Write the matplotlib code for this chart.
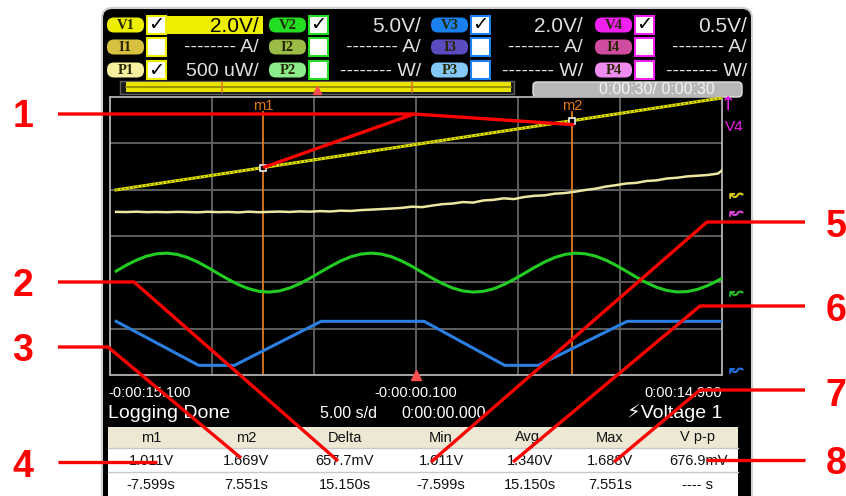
import numpy as np
import matplotlib
matplotlib.use('Agg')
import matplotlib.pyplot as plt
from matplotlib.patches import Rectangle, FancyBboxPatch

plt.rcParams['font.family'] = ['Liberation Sans', 'DejaVu Sans']

# ---- values ----
t_start, t_end = -15.1, 14.9          # 5.00 s/div, 6 divisions
m1_t, m2_t = -7.599, 7.551            # marker times

v1_t = [-14.8, 14.9]
v1_v = [0.22, 4.19]                   # V1 ramp (V)

sample_t = np.append(np.arange(-14.8, 14.75, 0.5), 14.9)
p1_uw = [12, 10, 14, 9, 11, 8, 12, 10, 7, 13, 9, 11, 6, 14, 8, 12, 15, 11, 17, 14,
         20, 16, 25, 22, 31, 36, 42, 48, 55, 68, 63, 80, 95, 102, 118, 112, 135, 142,
         158, 150, 172, 185, 190, 208, 215, 230, 248, 262, 285, 300, 318, 325, 345,
         352, 372, 380, 395, 402, 410, 425, 460]
v2_v = [2.36, 3.00, 3.55, 3.98, 4.23, 4.30, 4.16, 3.83, 3.34, 2.75, 2.10, 1.47, 0.90,
        0.46, 0.18, 0.10, 0.22, 0.53, 1.00, 1.59, 2.23, 2.87, 3.45, 3.91, 4.20, 4.30,
        4.20, 3.91, 3.45, 2.88, 2.23, 1.59, 1.01, 0.53, 0.22, 0.10, 0.18, 0.45, 0.90,
        1.47, 2.10, 2.75, 3.34, 3.83, 4.16, 4.30, 4.23, 3.98, 3.55, 3.00, 2.36, 1.71,
        1.11, 0.61, 0.27, 0.11, 0.15, 0.39, 0.80, 1.35, 1.59]
v3_t = [-14.8, -10.75, -9.0, -4.75, 0.3, 4.25, 5.9, 10.25, 14.9]
v3_v = [2.1, 0.2, 0.2, 2.1, 2.1, 0.2, 0.2, 2.1, 2.1]

v_names = ['V1', 'V2', 'V3', 'V4']
i_names = ['I1', 'I2', 'I3', 'I4']
p_names = ['P1', 'P2', 'P3', 'P4']
v_scale_txt = ['2.0V/', '5.0V/', '2.0V/', '0.5V/']
i_scale_txt = ['-------- A/'] * 4
p_scale_txt = ['500 uW/', '-------- W/', '-------- W/', '-------- W/']
p_checked = [True, False, False, False]

tbl_head = ['m1', 'm2', 'Delta', 'Min', 'Avg.', 'Max', 'V p-p']
tbl_volt = ['1.011V', '1.669V', '657.7mV', '1.011V', '1.340V', '1.688V', '676.9mV']
tbl_time = ['-7.599s', '7.551s', '15.150s', '-7.599s', '15.150s', '7.551s', '---- s']

time_labels = ['-0:00:15.100', '-0:00:00.100', '0:00:14.900']

# colours
c_v = ['#eeee00', '#22dd22', '#1a80f0', '#f020f0']
c_i = ['#d8c040', '#9cbc48', '#5a4cc0', '#d04ca0']
c_p = ['#f6f0a0', '#8cec8c', '#84c8f8', '#f08cf0']
c_trace = {'V1': '#dede00', 'P1': '#ece6a0', 'V2': '#22cc22', 'V3': '#2a7fe0'}
txt_w = '#e0e0e0'
orange = '#e07818'
red = '#ff0000'

W, H = 846, 496
fig = plt.figure(figsize=(W / 100, H / 100), dpi=100)
ui = fig.add_axes([0, 0, 1, 1])
ui.set_xlim(0, W)
ui.set_ylim(H, 0)
ui.axis('off')


def rect(x0, y0, x1, y1, fc, ec='none', lw=0, z=2):
    ui.add_patch(Rectangle((x0, y0), x1 - x0, y1 - y0, fc=fc, ec=ec, lw=lw, zorder=z))


def pill(x0, yc, w, h, fc, label):
    ui.add_patch(FancyBboxPatch((x0, yc - h / 2), w, h, boxstyle='round,pad=0,rounding_size=7',
                                fc=fc, ec='none', zorder=3))
    ui.text(x0 + w / 2, yc + 0.5, label, ha='center', va='center', fontsize=10.5, fontweight='bold',
            family='Liberation Serif', color='#262600', zorder=4)


# device screen
ui.add_patch(FancyBboxPatch((102, 8), 650, 500, boxstyle='round,pad=0,rounding_size=10',
                            fc='black', ec='#d0d0d0', lw=1.5, zorder=1))

# header rows
col_x = [107, 269, 431, 595]
row_y = [25, 47, 70]
for k in range(4):
    cx = col_x[k]
    pill(cx, row_y[0], 37, 15, c_v[k], v_names[k])
    pill(cx, row_y[1], 37, 15, c_i[k], i_names[k])
    pill(cx, row_y[2], 37, 15, c_p[k], p_names[k])
    for r, yc in enumerate(row_y):
        rect(cx + 40, yc - 9, cx + 59, yc + 9, 'white', c_v[k], 1.5, z=3)
    ui.text(cx + 49.5, row_y[0], '\u2713', ha='center', va='center', fontsize=14,
            color='black', family='DejaVu Sans', fontweight='bold', zorder=4)
    if p_checked[k]:
        ui.text(cx + 49.5, row_y[2], '\u2713', ha='center', va='center', fontsize=14,
                color='black', family='DejaVu Sans', fontweight='bold', zorder=4)
    if k == 0:
        rect(cx + 59, row_y[0] - 9, cx + 156, row_y[0] + 9, c_v[0], z=3)
    tc = 'black' if k == 0 else txt_w
    ui.text(cx + 152, row_y[0] + 1, v_scale_txt[k], ha='right', va='center', fontsize=15,
            color=tc, zorder=5)
    ui.text(cx + 152, row_y[1] + 1, i_scale_txt[k], ha='right', va='center', fontsize=14,
            color=txt_w, zorder=5)
    ui.text(cx + 152, row_y[2] + 1, p_scale_txt[k], ha='right', va='center', fontsize=14,
            color=txt_w, zorder=5)

# overview bars
rect(120, 81, 514, 94, '#1a1a1a', '#606060', 1, z=2)
rect(126, 82, 511, 92, '#e8e400', z=3)
ui.plot([126, 511], [87, 87], color='#8a8400', lw=1.2, zorder=4)
ui.plot([222, 222], [82, 92], color=orange, lw=1.2, zorder=4)
ui.plot([412, 412], [82, 92], color=orange, lw=1.2, zorder=4)
ui.plot([317], [90], marker='^', color='#ff5050', ms=6, zorder=5)
ui.add_patch(FancyBboxPatch((533, 82), 209, 15, boxstyle='round,pad=0,rounding_size=4',
                            fc='#b8b8b8', ec='#e0e0e0', lw=1, zorder=3))
ui.text(657, 90, '0:00:30/ 0:00:30', ha='center', va='center', fontsize=11.5,
        color='#f4f4f4', zorder=4)

# ---- scope grid ----
gx0, gy0, gx1, gy1 = 110, 97, 722, 375
scope = fig.add_axes([gx0 / W, 1 - gy1 / H, (gx1 - gx0) / W, (gy1 - gy0) / H])
scope.set_facecolor('black')
scope.set_xlim(t_start, t_end)
scope.set_ylim(0, 6)
scope.set_xticks(np.arange(t_start + 5, t_end - 1, 5))
scope.set_yticks(range(1, 6))
scope.grid(color='#5e5e5e', lw=1.4)
scope.tick_params(length=0, labelbottom=False, labelleft=False)
for s in scope.spines.values():
    s.set_color('#b4b4b4')
    s.set_linewidth(1.3)

# per-trace vertical scale: units/div and ground position (div from bottom)
scales = {'V1': (2.0, 3.885), 'P1': (500, 3.497), 'V2': (5.0, 1.77), 'V3': (2.0, 0.108)}
trace_ax = {}
for name, (per_div, gnd) in scales.items():
    a = scope.twinx()
    a.set_ylim(-gnd * per_div, (6 - gnd) * per_div)
    a.axis('off')
    trace_ax[name] = a

trace_ax['V3'].plot(v3_t, v3_v, color=c_trace['V3'], lw=2.2)
trace_ax['V2'].plot(sample_t, v2_v, color=c_trace['V2'], lw=2.2)
trace_ax['P1'].plot(sample_t, p1_uw, color=c_trace['P1'], lw=1.8)
trace_ax['V1'].plot(v1_t, v1_v, color=c_trace['V1'], lw=2.2)
trace_ax['V1'].plot(v1_t, v1_v, color='#3a3a00', lw=0.8, ls=(0, (1.2, 2.6)))

# markers
for mt, lab in [(m1_t, 'm1'), (m2_t, 'm2')]:
    scope.axvline(mt, ymin=0, ymax=0.945, color=orange, lw=1.3)
    scope.text(mt, 5.8, lab, ha='center', va='center', color=orange, fontsize=10.5)
mk_v = np.interp([m1_t, m2_t], v1_t, v1_v)
trace_ax['V1'].plot([m1_t, m2_t], mk_v, 's', ms=5, mfc='black', mec='#f0f0f0', mew=1.2)
scope.plot([-0.1], [0], marker='^', color='#ff5050', ms=7, clip_on=False, zorder=5)

# trace labels and ground arrows
ui.text(134, 172, 'V1', ha='center', va='center', fontsize=13, color='black', zorder=10,
        bbox=dict(boxstyle='square,pad=0.12', fc='#eeee80', ec='#8a8a00', lw=1))
ui.text(431, 190, 'P1', ha='center', va='center', fontsize=13, color=c_trace['P1'], zorder=10)
ui.text(136, 244, 'V2', ha='center', va='center', fontsize=13, color=c_trace['V2'], zorder=10)
ui.text(136, 308, 'V3', ha='center', va='center', fontsize=13, color=c_trace['V3'], zorder=10)
ui.text(728, 104, '\u2191', ha='center', va='center', fontsize=14, color=c_v[3],
        family='DejaVu Sans', zorder=10)
ui.text(734, 127, 'V4', ha='center', va='center', fontsize=11, color=c_v[3], zorder=10)
for yy, cc in [(195, '#d8cc20'), (213, '#e040e0'), (293, '#20c020'), (370, '#2070e0')]:
    ui.text(736, yy, '\u219c', ha='center', va='center', fontsize=13, color=cc,
            family='DejaVu Sans', fontweight='bold', zorder=10)

# time axis labels and status line
ui.text(108, 393, time_labels[0], ha='left', va='center', fontsize=10.5, color='white', zorder=5)
ui.text(416, 393, time_labels[1], ha='center', va='center', fontsize=10.5, color='white', zorder=5)
ui.text(722, 393, time_labels[2], ha='right', va='center', fontsize=10.5, color='white', zorder=5)
ui.text(108, 413, 'Logging Done', ha='left', va='center', fontsize=14, color='white', zorder=5)
ui.text(349, 414, '5.00 s/d', ha='center', va='center', fontsize=11.5, color='white', zorder=5)
ui.text(444, 414, '0:00:00.000', ha='center', va='center', fontsize=11.5, color='white', zorder=5)
ui.text(722, 413, '\u26a1Voltage 1', ha='right', va='center', fontsize=14, color='white', zorder=5)

# measurement table
tx0, tx1 = 108, 738
ty = [427, 448, 472, 496]
rect(tx0, ty[0], tx1, ty[1], '#ece8d4', z=3)
rect(tx0, ty[1], tx1, ty[3], 'white', z=3)
ui.plot([tx0, tx1], [ty[2], ty[2]], color='#c8c8c8', lw=1, zorder=4)
ui.plot([tx0, tx1], [ty[1], ty[1]], color='#c8c8c8', lw=1, zorder=4)
col_c = [151, 246, 345, 441, 530, 610, 698]
for j in range(7):
    ui.text(col_c[j], 437.5, tbl_head[j], ha='center', va='center', fontsize=10.5, color='#111111', zorder=5)
    ui.text(col_c[j], 461, tbl_volt[j], ha='center', va='center', fontsize=10.5, color='#111111', zorder=5)
    ui.text(col_c[j], 485, tbl_time[j], ha='center', va='center', fontsize=10.5, color='#111111', zorder=5)

# ---- red callouts ----
top = fig.add_axes([0, 0, 1, 1])
top.set_xlim(0, W)
top.set_ylim(H, 0)
top.axis('off')
top.patch.set_alpha(0)


def to_px(ax, x, y):
    return top.transData.inverted().transform(ax.transData.transform((x, y)))


def leader(pts):
    xs, ys = zip(*pts)
    top.plot(xs, ys, color=red, lw=2.4, solid_capstyle='butt', solid_joinstyle='miter')


p_m1 = to_px(trace_ax['V1'], m1_t, mk_v[0])
p_m2 = to_px(trace_ax['V1'], m2_t, mk_v[1])
leader([(58, 114), (414, 114), tuple(p_m1)])
leader([(414, 114), (p_m2[0] + 2, p_m2[1] + 4)])
leader([(58, 282), (134, 282), (338, 461)])
leader([(58, 347), (108, 347), (241, 458)])
leader([(58, 462), (157, 462)])
leader([(805, 222), (707, 222), (431, 462)])
leader([(805, 306), (700, 306), (513, 462)])
leader([(805, 390), (700, 390), (614, 462)])
leader([(805, 460), (706, 460)])

for lab, x, yb in [('1', 23, 127), ('2', 23, 296), ('3', 23, 361), ('4', 23, 477),
                   ('5', 836, 237), ('6', 836, 321), ('7', 836, 406), ('8', 836, 474)]:
    top.text(x, yb, lab, ha='center', va='baseline', fontsize=27, fontweight='bold', color=red)

fig.savefig('out.png', dpi=100, facecolor='white')
